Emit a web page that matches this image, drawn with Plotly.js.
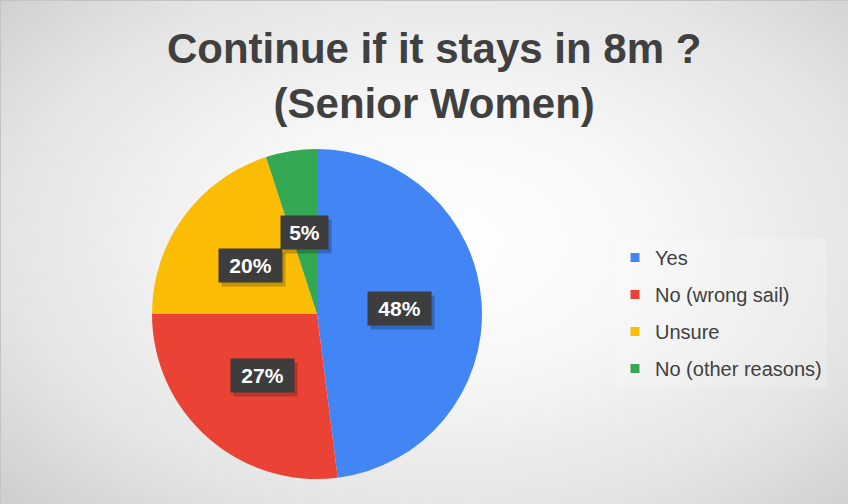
<!DOCTYPE html>
<html>
<head>
<meta charset="utf-8">
<script src="https://cdn.plot.ly/plotly-3.0.1.min.js"></script>
<style>
  html, body { margin: 0; padding: 0; background: #ececec; }
  #frame { position: absolute; left: 0; top: 0; width: 848px; height: 504px; overflow: hidden; }
  #chart { width: 848px; height: 504px;
    background: radial-gradient(ellipse 70% 75% at 52% 48%, #ffffff 0%, #f7f7f7 35%, #e3e3e3 75%, #cfcfcf 100%);
    box-shadow: inset 1px 1px 0 #c4c4c4; }
</style>
</head>
<body>
<div id="frame"><div id="chart"></div></div>
<script>
// ---- data ----
const labels = ['Yes', 'No (wrong sail)', 'Unsure', 'No (other reasons)'];
const values = [48, 27, 20, 5];
const pctLabels = ['48%', '27%', '20%', '5%'];
const colors = ['#4285F4', '#EA4335', '#FBBC04', '#34A853'];
const titleText = 'Continue if it stays in 8m ?<br>(Senior Women)';

// ---- layout geometry ----
const W = 848, H = 504;
const cx = 317, cy = 314, R = 165;          // pie centre & radius in px (screen)
const dom = { x: [(cx - R) / W, (cx + R) / W], y: [(H - cy - R) / H, (H - cy + R) / H] };

const traces = [{
  type: 'pie',
  labels: labels,
  values: values,
  sort: false,
  direction: 'clockwise',
  rotation: 0,
  textinfo: 'none',
  hoverinfo: 'label+percent',
  marker: { colors: colors, line: { width: 0 } },
  domain: dom,
  showlegend: false
}];

// legend entries driven by the same arrays
labels.forEach((lab, i) => {
  traces.push({
    type: 'scatter', mode: 'markers', x: [null], y: [null],
    name: lab, legendgroup: 'g' + i,
    marker: { symbol: 'square', size: 9, color: colors[i] },
    hoverinfo: 'skip'
  });
});

// data labels positioned from the slice values
const total = values.reduce((a, b) => a + b, 0);
const annotations = [];
let cum = 0;
values.forEach((v, i) => {
  const mid = (cum + v / 2) / total;
  cum += v;
  const th = mid * 2 * Math.PI;
  const px = cx + 0.5 * R * Math.sin(th);
  const pyUp = (H - cy) + 0.5 * R * Math.cos(th);
  const txt = pctLabels[i];
  const w = 16 * txt.length + 5;
  const base = {
    xref: 'paper', yref: 'paper', x: px / W, y: pyUp / H,
    xanchor: 'center', yanchor: 'middle', showarrow: false,
    width: w, height: 23, borderpad: 5
  };
  // soft drop shadow behind each label box
  annotations.push(Object.assign({}, base, {
    text: ' ', xshift: 3, yshift: -4,
    font: { family: 'Arial, Liberation Sans, sans-serif', size: 21, color: 'rgba(0,0,0,0)' },
    bgcolor: 'rgba(0,0,0,0.22)'
  }));
  annotations.push(Object.assign({}, base, {
    text: txt,
    font: { family: 'Arial, Liberation Sans, sans-serif', size: 21, color: '#ffffff', weight: 'bold' },
    bgcolor: '#3d3d3d'
  }));
});

const layout = {
  width: W, height: H,
  margin: { l: 0, r: 0, t: 0, b: 0 },
  paper_bgcolor: 'rgba(0,0,0,0)',
  plot_bgcolor: 'rgba(0,0,0,0)',
  title: {
    text: titleText,
    x: 0.512, xanchor: 'center',
    y: 1 - 63 / H, yanchor: 'top', yref: 'container',
    font: { family: 'Arial, Liberation Sans, sans-serif', size: 42, color: '#404040', weight: 'bold' }
  },
  xaxis: { visible: false },
  yaxis: { visible: false },
  showlegend: true,
  legend: {
    x: 615 / W, xanchor: 'left',
    y: 1 - 238 / H, yanchor: 'top',
    traceorder: 'grouped', tracegroupgap: 8,
    bgcolor: 'rgba(255,255,255,0.18)',
    font: { family: 'Arial, Liberation Sans, sans-serif', size: 20, color: '#404040' }
  },
  annotations: annotations
};

Plotly.newPlot('chart', traces, layout, { displayModeBar: false, staticPlot: true });
</script>
</body>
</html>
